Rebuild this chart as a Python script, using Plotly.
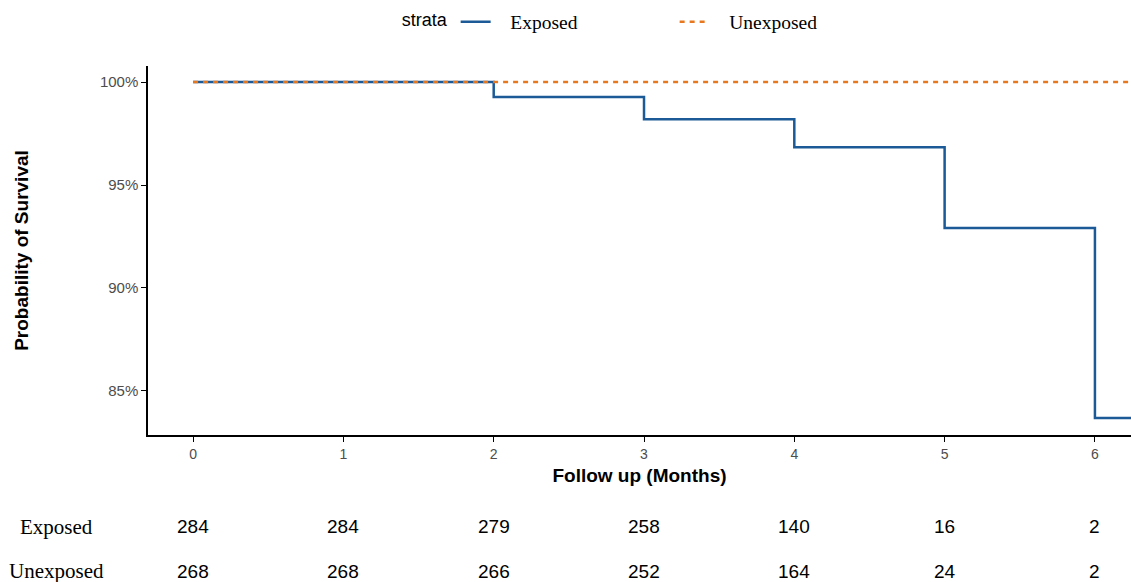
import plotly.graph_objects as go

# Data
time_exposed = [0, 2, 3, 4, 5, 6, 6.25]
surv_exposed = [100.0, 99.27, 98.20, 96.84, 92.91, 83.69, 83.69]
time_unexposed = [0, 6.25]
surv_unexposed = [100.0, 100.0]

risk_times = [0, 1, 2, 3, 4, 5, 6]
risk_exposed = [284, 284, 279, 258, 140, 16, 2]
risk_unexposed = [268, 268, 266, 252, 164, 24, 2]
strata = ["Exposed", "Unexposed"]

y_ticks = [85, 90, 95, 100]

pad = "\u00a0\u00a0\u00a0"

fig = go.Figure()
fig.add_trace(go.Scatter(
    x=time_exposed, y=surv_exposed, mode="lines", name=pad + strata[0],
    line=dict(color="#1b5a96", width=2.5, shape="hv"),
))
fig.add_trace(go.Scatter(
    x=time_unexposed, y=surv_unexposed, mode="lines", name=pad + strata[1],
    line=dict(color="#e8781f", width=2.5, dash="5px,5px", shape="hv"),
))

ann = []
rows = [(risk_exposed, -0.249, strata[0]), (risk_unexposed, -0.369, strata[1])]
for vals, yp, lab in rows:
    ann.append(dict(x=-0.0926, y=yp, xref="paper", yref="paper", text=lab,
                    showarrow=False, xanchor="center", yanchor="middle",
                    font=dict(family="Liberation Serif", size=21, color="black")))
    for t, v in zip(risk_times, vals):
        ann.append(dict(x=t, y=yp, xref="x", yref="paper", text=str(v),
                        showarrow=False, xanchor="center", yanchor="middle",
                        font=dict(family="Liberation Sans", size=19, color="black")))

fig.update_layout(
    width=1131, height=582,
    margin=dict(l=148, r=0, t=66, b=147),
    paper_bgcolor="white", plot_bgcolor="white",
    showlegend=True,
    legend=dict(
        orientation="h", x=0.256, xanchor="left", y=1.119, yanchor="middle",
        title=dict(text="strata", font=dict(family="Liberation Sans", size=18, color="black"), side="left"),
        font=dict(family="Liberation Serif", size=19.5, color="black"),
        entrywidth=174, entrywidthmode="pixels",
        bgcolor="rgba(0,0,0,0)",
    ),
    xaxis=dict(
        range=[-0.3, 6.24], tickvals=risk_times, ticktext=[str(t) for t in risk_times],
        showgrid=False, zeroline=False, showline=True, linecolor="black", linewidth=1.5,
        ticks="outside", ticklen=5, tickcolor="black", tickwidth=1,
        tickfont=dict(family="Liberation Sans", size=14, color="#4d4d4d"),
        title=dict(text="<b>Follow up (Months)</b>", font=dict(family="Liberation Sans", size=19, color="black"), standoff=8),
    ),
    yaxis=dict(
        range=[82.86, 100.78], tickvals=y_ticks, ticktext=[f"{v}%" for v in y_ticks],
        showgrid=False, zeroline=False, showline=True, linecolor="black", linewidth=1.5,
        ticks="outside", ticklen=5, tickcolor="black", tickwidth=1,
        tickfont=dict(family="Liberation Sans", size=15, color="#4d4d4d"),
        title=dict(text="<b>Probability of Survival</b>", font=dict(family="Liberation Sans", size=19, color="black"), standoff=66),
    ),
    annotations=ann,
)

fig.write_html("out.html", config={"displayModeBar": False},
               post_script="document.body.style.margin='0';")
